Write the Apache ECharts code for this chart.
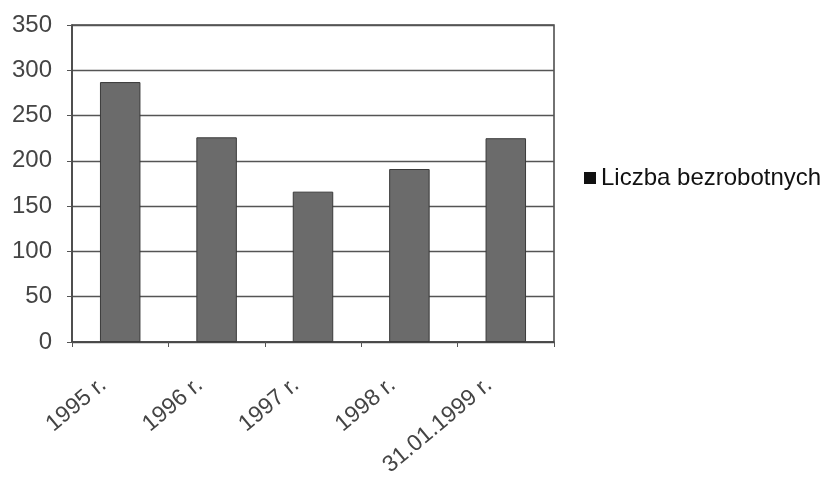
<!DOCTYPE html>
<html><head><meta charset="utf-8">
<script src="https://cdn.jsdelivr.net/npm/echarts@6/dist/echarts.min.js"></script>
<style>html,body{margin:0;padding:0;background:#fff}#c{width:834px;height:481px}</style>
</head><body><div id="c"></div>
<script>
const categories = ['1995 r.', '1996 r.', '1997 r.', '1998 r.', '31.01.1999 r.'];
const values = [287, 226, 166, 191, 225];
const seriesName = 'Liczba bezrobotnych';
const yMin = 0, yMax = 350, yStep = 50;

const chart = echarts.init(document.getElementById('c'));
chart.setOption({
  animation: false,
  backgroundColor: '#fff',
  grid: { left: 72, right: 280, top: 25, bottom: 139, show: true, borderColor: '#444', borderWidth: 1.5, backgroundColor: 'transparent' },
  legend: {
    data: [{ name: seriesName, itemStyle: { color: '#111', borderWidth: 0 } }],
    left: 579, top: 161, orient: 'vertical', icon: 'rect', itemWidth: 12, itemHeight: 12, itemGap: 8,
    textStyle: { fontFamily: 'Liberation Sans, Arial', fontSize: 24, color: '#111' }
  },
  xAxis: {
    type: 'category', data: categories,
    axisLine: { lineStyle: { color: '#444', width: 1.5 } },
    axisTick: { show: true, alignWithLabel: false, length: 5, lineStyle: { color: '#555' } },
    axisLabel: { rotate: 40, margin: 26, padding: [0, 22, 0, 0], color: '#444', fontFamily: 'Liberation Sans, Arial', fontSize: 23 }
  },
  yAxis: {
    type: 'value', min: yMin, max: yMax, interval: yStep,
    axisLine: { show: true, lineStyle: { color: '#444', width: 1.5 } },
    axisTick: { show: true, length: 5, lineStyle: { color: '#555' } },
    splitLine: { lineStyle: { color: '#555', width: 1.3 } },
    axisLabel: { margin: 20, color: '#444', fontFamily: 'Liberation Sans, Arial', fontSize: 24 }
  },
  series: [{
    name: seriesName, type: 'bar', data: values, barWidth: '42%',
    itemStyle: { color: '#6b6b6b', borderColor: '#3a3a3a', borderWidth: 1 }
  }]
});
</script></body></html>
